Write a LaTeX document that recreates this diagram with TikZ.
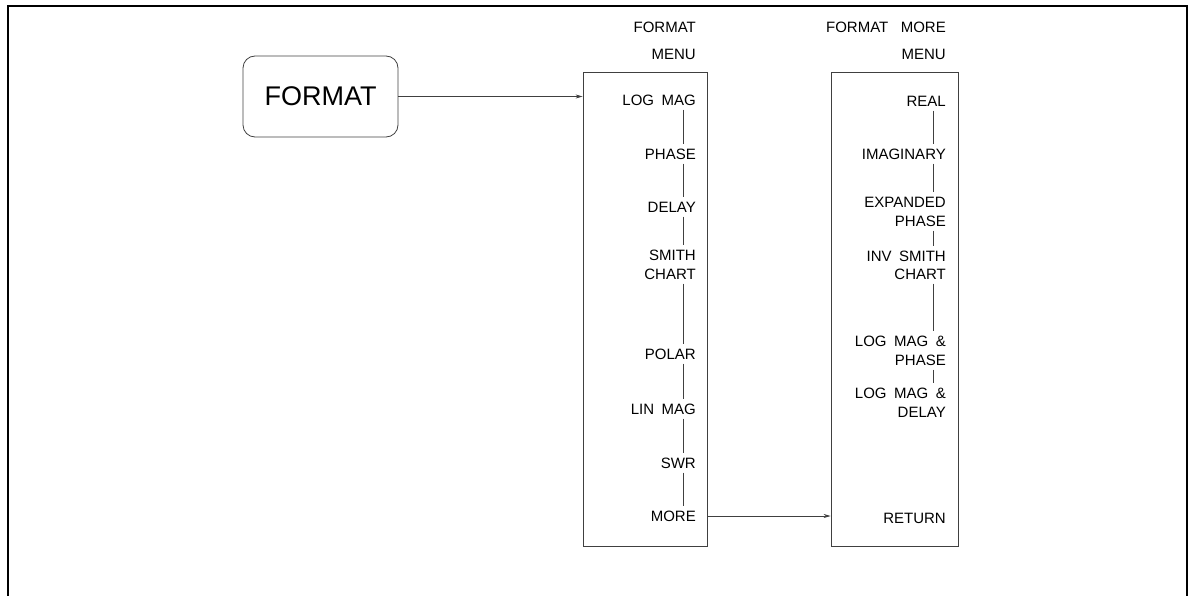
\documentclass[tikz,border=0pt]{standalone}
\usepackage{fontspec}
\setmainfont{Liberation Sans}[WordSpace=1.8]
\usetikzlibrary{arrows.meta}
\begin{document}
\begin{tikzpicture}[x=1pt,y=-1pt,
  conn/.style={draw=black!75, line width=0.7pt},
  arr/.style={conn, -{Stealth[length=7pt,width=4pt]}},
  menubox/.style={draw=black!75, line width=0.8pt, minimum width=#1, minimum height=474pt, inner sep=0pt},
  item/.style={anchor=base east, font=\fontsize{15}{18}\selectfont, inner xsep=0pt, inner ysep=4pt, text height=11pt, text depth=0pt},
  keybox/.style={draw=black!75, line width=0.8pt, rounded corners=12pt, minimum width=155pt, minimum height=81pt, font=\fontsize{27}{30}\selectfont, inner sep=0pt}
]
\useasboundingbox (0,0) rectangle (1190,596);
% outer frame
\draw[line width=1.3pt] (8,600) -- (8,6) -- (1187,6) -- (1187,600);

% hardkey
\node[keybox] (key) at (320.5,96.5) {FORMAT};

% menu boxes
\node[menubox=124pt] (menuA) at (645,309) {};
\node[menubox=127pt] (menuB) at (894.5,309.5) {};

% titles
\node[item] (tA1) at (696,32.5) {FORMAT};
\node[item] (tA2) at (696,59.5) {MENU};
\node[item] (tB1) at (946,32.5) {FORMAT\hspace{5pt} MORE};
\node[item] (tB2) at (946,59.5) {MENU};

% menu A items
\node[item] (logmag) at (696,105.5) {LOG MAG};
\node[item] (phase)  at (696,159.5) {PHASE};
\node[item] (delay)  at (696,212.5) {DELAY};
\node[item] (smitha) at (696,260.5) {SMITH};
\node[item] (smithb) at (696,279.5) {CHART};
\node[item] (polar)  at (696,359.5) {POLAR};
\node[item] (linmag) at (696,414.5) {LIN MAG};
\node[item] (swr)    at (696,468.5) {SWR};
\node[item] (more)   at (696,521.5) {MORE};

% menu B items
\node[item] (real)  at (946,106.5) {REAL};
\node[item] (imag)  at (946,159.5) {IMAGINARY};
\node[item] (expa)  at (946,207.5) {EXPANDED};
\node[item] (expb)  at (946,226.5) {PHASE};
\node[item] (invsa) at (946,261.5) {INV SMITH};
\node[item] (invsb) at (946,279.5) {CHART};
\node[item] (lmpa)  at (946,346.5) {LOG MAG \&};
\node[item] (lmpb)  at (946,365.5) {PHASE};
\node[item] (lmda)  at (946,398.5) {LOG MAG \&};
\node[item] (lmdb)  at (946,417.5) {DELAY};
\node[item] (ret)   at (946,523.5) {RETURN};

% menu A links
\foreach \a/\b in {logmag/phase, phase/delay, delay/smitha, smithb/polar, polar/linmag, linmag/swr, swr/more}
  \draw[conn] ([xshift=-13pt]\a.south east) -- ([xshift=-13pt]\b.north east);
% menu B links
\foreach \a/\b in {real/imag, imag/expa, expb/invsa, invsb/lmpa, lmpb/lmda}
  \draw[conn] ([xshift=-13pt]\a.south east) -- ([xshift=-13pt]\b.north east);

% arrows
\draw[arr] (key.east) -- (key.east -| menuA.west);
\draw[arr] (more -| menuA.east) -- (more -| menuB.west);
\end{tikzpicture}
\end{document}
